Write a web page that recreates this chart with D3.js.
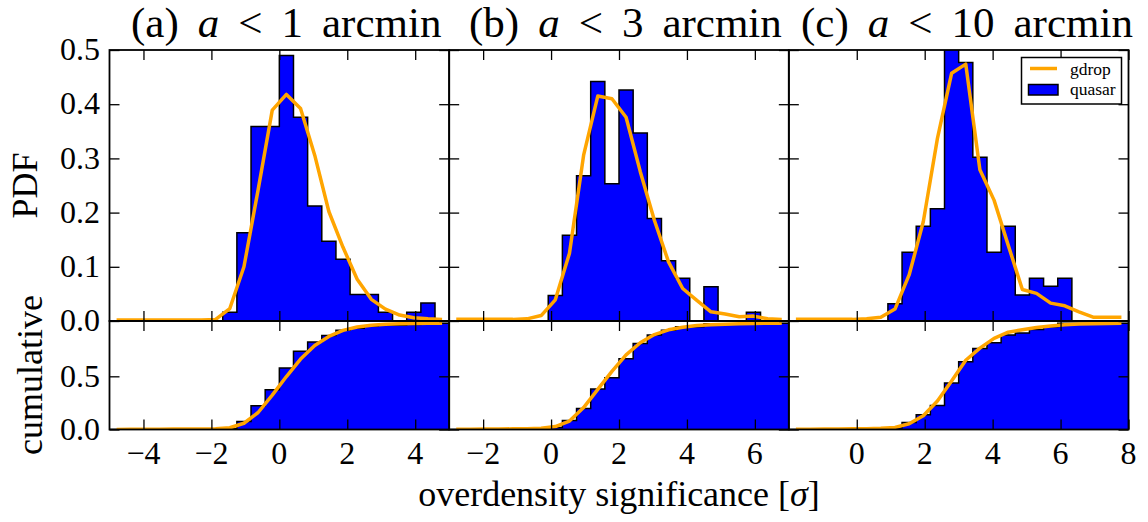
<!DOCTYPE html>
<html>
<head>
<meta charset="utf-8">
<script src="https://cdn.jsdelivr.net/npm/d3@7"></script>
</head>
<body style="margin:0;background:#fff">
<svg id="fig" width="1148" height="522"></svg>
<script>
// ---- data: density histograms on 24 equal bins spanning each panel's x range ----
const binCount = 24;
const panelLetters = ["(a)", "(b)", "(c)"];
const radiusLimits = ["1", "3", "10"];
const xDomains = [[-5, 5], [-3, 7], [-2, 8]];
const xTickValues = [[-4, -2, 0, 2, 4], [-2, 0, 2, 4, 6], [0, 2, 4, 6, 8]];
const pdfTickValues = [0, 0.1, 0.2, 0.3, 0.4, 0.5];
const cumTickValues = [0, 0.5];

// quasar fields (filled histogram)
const quasarA = [0, 0, 0, 0, 0, 0, 0, 0, 0.016, 0.163, 0.359, 0.359, 0.490, 0.376, 0.212, 0.147, 0.114, 0.049, 0.049, 0.016, 0, 0.016, 0.033, 0];
const quasarB = [0, 0, 0, 0, 0, 0, 0, 0.047, 0.158, 0.268, 0.442, 0.253, 0.426, 0.347, 0.189, 0.111, 0.079, 0, 0.063, 0, 0, 0.016, 0, 0];
const quasarC = [0, 0, 0, 0, 0, 0, 0, 0.032, 0.127, 0.175, 0.207, 0.509, 0.477, 0.302, 0.127, 0.175, 0.048, 0.079, 0.064, 0.079, 0, 0, 0, 0];

// g-dropout reference distribution (line through bin centres)
const gdropA = [0.002, 0.002, 0.002, 0.002, 0.002, 0.002, 0.002, 0.003, 0.023, 0.100, 0.242, 0.389, 0.418, 0.392, 0.306, 0.202, 0.136, 0.077, 0.040, 0.022, 0.011, 0.006, 0.004, 0.003];
const gdropB = [0.003, 0.003, 0.003, 0.003, 0.003, 0.004, 0.010, 0.039, 0.125, 0.306, 0.415, 0.410, 0.376, 0.276, 0.186, 0.109, 0.060, 0.038, 0.017, 0.013, 0.008, 0.009, 0.004, 0.003];
const gdropC = [0.003, 0.003, 0.003, 0.003, 0.003, 0.004, 0.007, 0.022, 0.085, 0.183, 0.337, 0.457, 0.474, 0.279, 0.223, 0.140, 0.058, 0.051, 0.033, 0.028, 0.017, 0.007, 0.007, 0.007];

const quasarSets = [quasarA, quasarB, quasarC];
const gdropSets = [gdropA, gdropB, gdropC];

// ---- layout ----
const left = 109.5, right = 1128.5;
const panelW = (right - left) / 3;
const pdfTop = 50, split = 321, cumBottom = 429.5;
const titleStarts = [131, 469, 801];
const titleGap = 19;
const BLUE = "#0000ff", ORANGE = "#ffa500";
const FONT = "'Liberation Serif'";
const tickFont = 32;

const svg = d3.select("#fig");
const defs = svg.append("defs");
const labelLayer = svg.append("g").attr("class", "labels");

function label(sel, size) {
  return sel.style("font-family", FONT).attr("font-size", size).attr("fill", "#000");
}

function cumulative(vals) {
  const total = d3.sum(vals);
  let run = 0;
  return vals.map(v => (run += v) / total);
}

function stepData(edges, vals) {
  const pts = vals.map((v, k) => ({ x: edges[k], y: v }));
  pts.push({ x: edges[edges.length - 1], y: vals[vals.length - 1] });
  return pts;
}

// tick marks only; the numbers are set separately in the serif face
function styleAxis(g) {
  g.select(".domain").remove();
  g.selectAll(".tick text").remove();
  g.selectAll(".tick line").attr("stroke", "#000").attr("stroke-width", 1.3);
}

const fmtY = d3.format(".1f");
const fmtX = d3.format("d");

function yTickLabels(scale, values, xPos) {
  values.forEach(v => {
    label(svg.append("text"), tickFont)
      .attr("x", xPos).attr("y", scale(v) + 0.32 * tickFont)
      .attr("text-anchor", "end").text(fmtY(v));
  });
}

for (let i = 0; i < 3; i++) {
  const x0 = left + i * panelW, x1 = left + (i + 1) * panelW;
  const [d0, d1] = xDomains[i];
  const x = d3.scaleLinear().domain(xDomains[i]).range([x0, x1]);
  const yPdf = d3.scaleLinear().domain([0, 0.5]).range([split, pdfTop]);
  const yCum = d3.scaleLinear().domain([0, 1.02]).range([cumBottom, split]);

  const binW = (d1 - d0) / binCount;
  const edges = d3.range(binCount + 1).map(k => d0 + k * binW);
  const centers = d3.range(binCount).map(k => d0 + (k + 0.5) * binW);

  const q = quasarSets[i], g = gdropSets[i];
  const qCum = cumulative(q), gCum = cumulative(g);

  const clipTop = "clipTop" + i, clipBot = "clipBot" + i;
  defs.append("clipPath").attr("id", clipTop).append("rect")
    .attr("x", x0).attr("y", pdfTop).attr("width", x1 - x0).attr("height", split - pdfTop);
  defs.append("clipPath").attr("id", clipBot).append("rect")
    .attr("x", x0).attr("y", split).attr("width", x1 - x0).attr("height", cumBottom - split);

  // --- PDF panel ---
  const top = svg.append("g").attr("clip-path", `url(#${clipTop})`);
  const areaPdf = d3.area().curve(d3.curveStepAfter)
    .x(d => x(d.x)).y0(yPdf(0)).y1(d => yPdf(d.y));
  const linePdf = d3.line().curve(d3.curveStepAfter)
    .x(d => x(d.x)).y(d => yPdf(d.y));
  const qSteps = stepData(edges, q);
  top.append("path").attr("d", areaPdf(qSteps)).attr("fill", BLUE);
  top.append("path").attr("d", linePdf(qSteps)).attr("fill", "none")
    .attr("stroke", "#000").attr("stroke-width", 1.5);
  top.append("path")
    .attr("d", d3.line().x((d, k) => x(centers[k])).y(d => yPdf(d))(g))
    .attr("fill", "none").attr("stroke", ORANGE).attr("stroke-width", 3.5)
    .attr("stroke-linejoin", "round");

  // --- cumulative panel ---
  const bot = svg.append("g").attr("clip-path", `url(#${clipBot})`);
  const areaCum = d3.area().curve(d3.curveStepAfter)
    .x(d => x(d.x)).y0(yCum(0)).y1(d => yCum(d.y));
  const lineCum = d3.line().curve(d3.curveStepAfter)
    .x(d => x(d.x)).y(d => yCum(d.y));
  const cSteps = stepData(edges, qCum);
  bot.append("path").attr("d", areaCum(cSteps)).attr("fill", BLUE);
  bot.append("path").attr("d", lineCum(cSteps)).attr("fill", "none")
    .attr("stroke", "#000").attr("stroke-width", 1.5);
  bot.append("path")
    .attr("d", d3.line().x((d, k) => x(centers[k])).y(d => yCum(d))(gCum))
    .attr("fill", "none").attr("stroke", ORANGE).attr("stroke-width", 3.5)
    .attr("stroke-linejoin", "round");

  // --- tick marks (inward on all four sides) ---
  svg.append("g").attr("transform", `translate(0,${split})`)
    .call(d3.axisBottom(x).tickValues(xTickValues[i]).tickSize(-10)).call(styleAxis);
  svg.append("g").attr("transform", `translate(0,${pdfTop})`)
    .call(d3.axisTop(x).tickValues(xTickValues[i]).tickSize(-10)).call(styleAxis);
  svg.append("g").attr("transform", `translate(${x0},0)`)
    .call(d3.axisLeft(yPdf).tickValues(pdfTickValues).tickSize(-10)).call(styleAxis);
  svg.append("g").attr("transform", `translate(${x1},0)`)
    .call(d3.axisRight(yPdf).tickValues(pdfTickValues).tickSize(-10)).call(styleAxis);
  svg.append("g").attr("transform", `translate(0,${cumBottom})`)
    .call(d3.axisBottom(x).tickValues(xTickValues[i]).tickSize(-10)).call(styleAxis);
  svg.append("g").attr("transform", `translate(0,${split})`)
    .call(d3.axisTop(x).tickValues(xTickValues[i]).tickSize(-10)).call(styleAxis);
  svg.append("g").attr("transform", `translate(${x0},0)`)
    .call(d3.axisLeft(yCum).tickValues(cumTickValues).tickSize(-10)).call(styleAxis);
  svg.append("g").attr("transform", `translate(${x1},0)`)
    .call(d3.axisRight(yCum).tickValues(cumTickValues).tickSize(-10)).call(styleAxis);

  // tick numbers
  xTickValues[i].forEach(v => {
    label(svg.append("text"), tickFont)
      .attr("x", x(v)).attr("y", cumBottom + 12 + 0.71 * tickFont)
      .attr("text-anchor", "middle").text(fmtX(v));
  });
  if (i === 0) {
    yTickLabels(yPdf, pdfTickValues, x0 - 9.5);
    yTickLabels(yCum, cumTickValues, x0 - 9.5);
  }

  // frames
  svg.append("rect").attr("x", x0).attr("y", pdfTop).attr("width", x1 - x0)
    .attr("height", split - pdfTop).attr("fill", "none").attr("stroke", "#000").attr("stroke-width", 1.8);
  svg.append("rect").attr("x", x0).attr("y", split).attr("width", x1 - x0)
    .attr("height", cumBottom - split).attr("fill", "none").attr("stroke", "#000").attr("stroke-width", 1.8);

  // panel title, set piece by piece with math-style spacing
  const pieces = [
    { s: panelLetters[i], it: false },
    { s: "a", it: true },
    { s: "<", it: false },
    { s: radiusLimits[i], it: false },
    { s: "arcmin", it: false }
  ];
  let cx = titleStarts[i];
  pieces.forEach(p => {
    const t = label(svg.append("text"), 43).attr("x", cx).attr("y", 37).text(p.s);
    if (p.it) t.style("font-style", "italic");
    cx += t.node().getComputedTextLength() + titleGap;
  });
}

// axis titles
label(svg.append("text"), 36).attr("transform", "translate(37,185.5) rotate(-90)")
  .attr("text-anchor", "middle").text("PDF");
label(svg.append("text"), 36).attr("transform", "translate(42,375) rotate(-90)")
  .attr("text-anchor", "middle").text("cumulative");
const xl = label(svg.append("text"), 36).attr("x", (left + right) / 2).attr("y", 506)
  .attr("text-anchor", "middle");
xl.append("tspan").text("overdensity significance [");
xl.append("tspan").style("font-style", "italic").text("σ");
xl.append("tspan").text("]");

// legend
const lg = svg.append("g");
lg.append("rect").attr("x", 1021.5).attr("y", 57.5).attr("width", 100).attr("height", 46.5)
  .attr("fill", "#fff").attr("stroke", "#000").attr("stroke-width", 1.5);
lg.append("line").attr("x1", 1030).attr("x2", 1057).attr("y1", 68.5).attr("y2", 68.5)
  .attr("stroke", ORANGE).attr("stroke-width", 3.5);
lg.append("rect").attr("x", 1028.5).attr("y", 84.5).attr("width", 29.5).attr("height", 10.5)
  .attr("fill", BLUE).attr("stroke", "#000").attr("stroke-width", 1.5);
label(lg.append("text"), 17.5).attr("x", 1070).attr("y", 75).text("gdrop");
label(lg.append("text"), 17.5).attr("x", 1070).attr("y", 94.5).text("quasar");
</script>
</body>
</html>
